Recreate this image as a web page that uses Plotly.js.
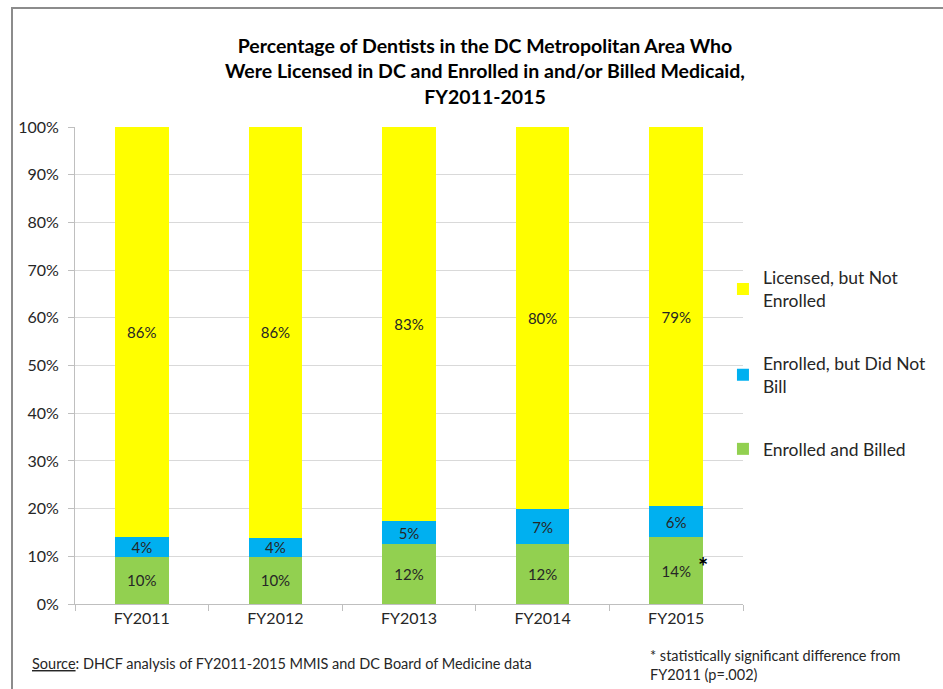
<!DOCTYPE html>
<html>
<head>
<meta charset="utf-8">
<script src="https://cdn.plot.ly/plotly-3.0.1.min.js"></script>
<style>html,body{margin:0;padding:0;background:#fff;}#chart{width:943px;height:689px;}</style>
</head>
<body>
<div id="chart"></div>
<script>
const categories = ['FY2011', 'FY2012', 'FY2013', 'FY2014', 'FY2015'];
const enrolledBilled = [9.9, 9.9, 12.5, 12.5, 14.0];
const enrolledNotBilled = [4.1, 4.0, 4.8, 7.4, 6.5];
const licensedNotEnrolled = [86.0, 86.1, 82.7, 80.1, 79.5];
const labelsBilled = ['10%', '10%', '12%', '12%', '14%'];
const labelsNotBilled = ['4%', '4%', '5%', '7%', '6%'];
const labelsNotEnrolled = ['86%', '86%', '83%', '80%', '79%'];
const yTickVals = [0, 10, 20, 30, 40, 50, 60, 70, 80, 90, 100];
const yTickText = ['0%', '10%', '20%', '30%', '40%', '50%', '60%', '70%', '80%', '90%', '100%'];

const FONT = 'Lato, "Open Sans", sans-serif';
const labelFont = {family: FONT, size: 15, color: '#262626'};

function barTrace(name, y, text, color, legend) {
  return {
    type: 'bar', x: categories, y: y, name: name, text: text,
    textposition: 'inside', insidetextanchor: 'middle', constraintext: 'none',
    textfont: labelFont, texttemplate: '%{text}',
    marker: {color: color, line: {width: 0}},
    hoverinfo: 'skip', legend: legend
  };
}

const data = [
  barTrace('Enrolled and Billed', enrolledBilled, labelsBilled, '#92D050', 'legend3'),
  barTrace('Enrolled, but Did Not<br>Bill', enrolledNotBilled, labelsNotBilled, '#00B0F0', 'legend2'),
  barTrace('Licensed, but Not<br>Enrolled', licensedNotEnrolled, labelsNotEnrolled, '#FFFF00', 'legend')
];

const legendFont = {family: FONT, size: 17.5, color: '#262626'};
function leg(y) {
  return {x: 0.970, xanchor: 'left', y: y, yanchor: 'middle', font: legendFont,
          bgcolor: 'rgba(0,0,0,0)', borderwidth: 0, itemwidth: 30,
          itemclick: false, itemdoubleclick: false};
}

const layout = {
  width: 943, height: 689,
  margin: {l: 75, r: 200, t: 127, b: 85, autoexpand: false},
  paper_bgcolor: '#fff', plot_bgcolor: '#fff',
  barmode: 'stack', bargap: 0.6,
  showlegend: true,
  legend: leg(0.660),
  legend2: leg(0.480),
  legend3: leg(0.325),
  title: {
    text: '<b>Percentage of Dentists in the DC Metropolitan Area Who<br>Were Licensed in DC and Enrolled in and/or Billed Medicaid,<br>FY2011-2015</b>',
    font: {family: FONT, size: 19.5, color: '#000'},
    x: 485 / 943, xanchor: 'center', xref: 'container',
    y: 1 - 53 / 689, yanchor: 'top', yref: 'container'
  },
  xaxis: {
    type: 'category', showgrid: false, showline: true, linecolor: '#BFBFBF', linewidth: 1,
    ticks: 'outside', tickson: 'boundaries', ticklen: 6, tickcolor: '#BFBFBF',
    tickfont: {family: FONT, size: 16, color: '#262626'}, fixedrange: true
  },
  yaxis: {
    range: [0, 100], tickvals: yTickVals, ticktext: yTickText,
    showgrid: true, gridcolor: '#D9D9D9', gridwidth: 1,
    showline: true, linecolor: '#BFBFBF', linewidth: 1,
    ticks: 'outside', ticklen: 6, tickcolor: '#BFBFBF',
    tickfont: {family: FONT, size: 16, color: '#262626'},
    zeroline: false, fixedrange: true, ticklabelstandoff: 6
  },
  shapes: [{
    type: 'rect', xref: 'paper', yref: 'paper',
    x0: (12 - 75) / 668, x1: 1.6, y0: -0.6, y1: (604 - 8) / 477,
    line: {color: '#8C8C8C', width: 2}, fillcolor: 'rgba(0,0,0,0)', layer: 'below'
  }],
  annotations: [
    {text: '<b>*</b>', xref: 'x', yref: 'y', x: categories[4], y: enrolledBilled[4],
     xshift: 27, yshift: -29, showarrow: false, font: {family: FONT, size: 24, color: '#000'}},
    {text: '<u>Source</u>: DHCF analysis of FY2011-2015 MMIS and DC Board of Medicine data',
     xref: 'paper', yref: 'paper', x: (30 - 75) / 668, y: (604 - 663) / 477,
     xanchor: 'left', yanchor: 'middle', showarrow: false,
     font: {family: FONT, size: 14.5, color: '#262626'}},
    {text: '* statistically significant difference from<br>FY2011 (p=.002)',
     xref: 'paper', yref: 'paper', x: (648 - 75) / 668, y: (604 - 665) / 477,
     xanchor: 'left', yanchor: 'middle', align: 'left', showarrow: false,
     font: {family: FONT, size: 14.5, color: '#262626'}}
  ]
};

Plotly.newPlot('chart', data, layout, {displayModeBar: false, staticPlot: true});
</script>
</body>
</html>
